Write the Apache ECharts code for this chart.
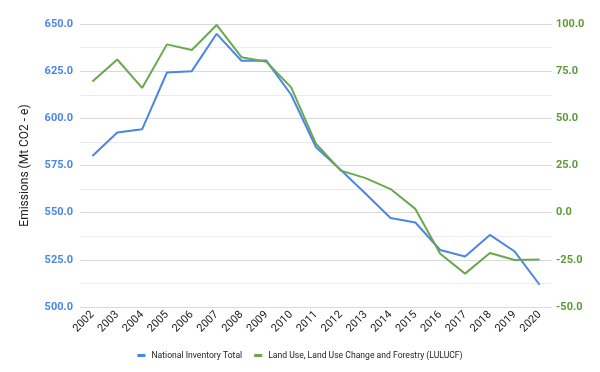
<!DOCTYPE html>
<html><head><meta charset="utf-8">
<script src="https://cdn.jsdelivr.net/npm/echarts@6/dist/echarts.min.js"></script>
<style>html,body{margin:0;padding:0;background:#fff}#c{width:600px;height:372px}</style>
</head><body><div id="c"></div>
<script>
const years = ['2002','2003','2004','2005','2006','2007','2008','2009','2010','2011','2012','2013','2014','2015','2016','2017','2018','2019','2020'];
const nationalTotal = [580, 592.5, 594.2, 624.3, 625, 644.8, 630.5, 630.6, 612.5, 584.7, 572.6, 560, 547.2, 544.8, 530.2, 526.8, 538.2, 529.4, 511.8];
const lulucf = [69.5, 81.2, 66.1, 89.2, 86.2, 99.5, 82.4, 80, 66.4, 36.5, 22.3, 18.3, 12.5, 2, -21.8, -32.3, -21.4, -25.1, -24.8];
const leftTicks = {min: 500, max: 650, interval: 25};
const rightTicks = {min: -50, max: 100, interval: 25};

const chart = echarts.init(document.getElementById('c'));
chart.setOption({
  animation: false,
  textStyle: {fontFamily: 'Roboto'},
  grid: {left: 80, right: 48, top: 24, bottom: 65},
  legend: {
    top: 346, left: 'center', itemWidth: 8, itemHeight: 3, itemGap: 12,
    icon: 'rect',
    textStyle: {fontSize: 8.6, color: '#222', padding: [0, 0, 0, 1]},
    data: ['National Inventory Total', 'Land Use, Land Use Change and Forestry (LULUCF)']
  },
  xAxis: {
    type: 'category', data: years, boundaryGap: true,
    axisLine: {show: false}, axisTick: {show: false},
    axisLabel: {rotate: 45, fontSize: 11, color: '#222', margin: 6, interval: 0}
  },
  yAxis: [{
    type: 'value', min: leftTicks.min, max: leftTicks.max, interval: leftTicks.interval,
    name: 'Emissions (Mt CO2 - e)', nameLocation: 'middle', nameGap: 49, nameRotate: 90,
    nameTextStyle: {fontSize: 12, color: '#222'},
    axisLine: {show: false}, axisTick: {show: false},
    axisLabel: {color: '#4a86e8', fontWeight: 'bold', fontSize: 11, margin: 7, formatter: v => v.toFixed(1)},
    splitLine: {lineStyle: {color: '#d9d9d9', width: 1}},
    minorTick: {show: false, splitNumber: 2},
    minorSplitLine: {show: true, lineStyle: {color: '#ececec', width: 1}}
  }, {
    type: 'value', min: rightTicks.min, max: rightTicks.max, interval: rightTicks.interval,
    position: 'right',
    axisLine: {show: false}, axisTick: {show: false},
    axisLabel: {color: '#5c9b35', fontWeight: 'bold', fontSize: 11, margin: 4, formatter: v => v.toFixed(1)},
    splitLine: {show: false}
  }],
  series: [{
    name: 'National Inventory Total', type: 'line', data: nationalTotal, yAxisIndex: 0,
    symbol: 'none', lineStyle: {color: '#4a86e8', width: 2}, itemStyle: {color: '#4a86e8'}
  }, {
    name: 'Land Use, Land Use Change and Forestry (LULUCF)', type: 'line', data: lulucf, yAxisIndex: 1,
    symbol: 'none', lineStyle: {color: '#6aa84f', width: 2}, itemStyle: {color: '#6aa84f'}
  }]
});
</script></body></html>
